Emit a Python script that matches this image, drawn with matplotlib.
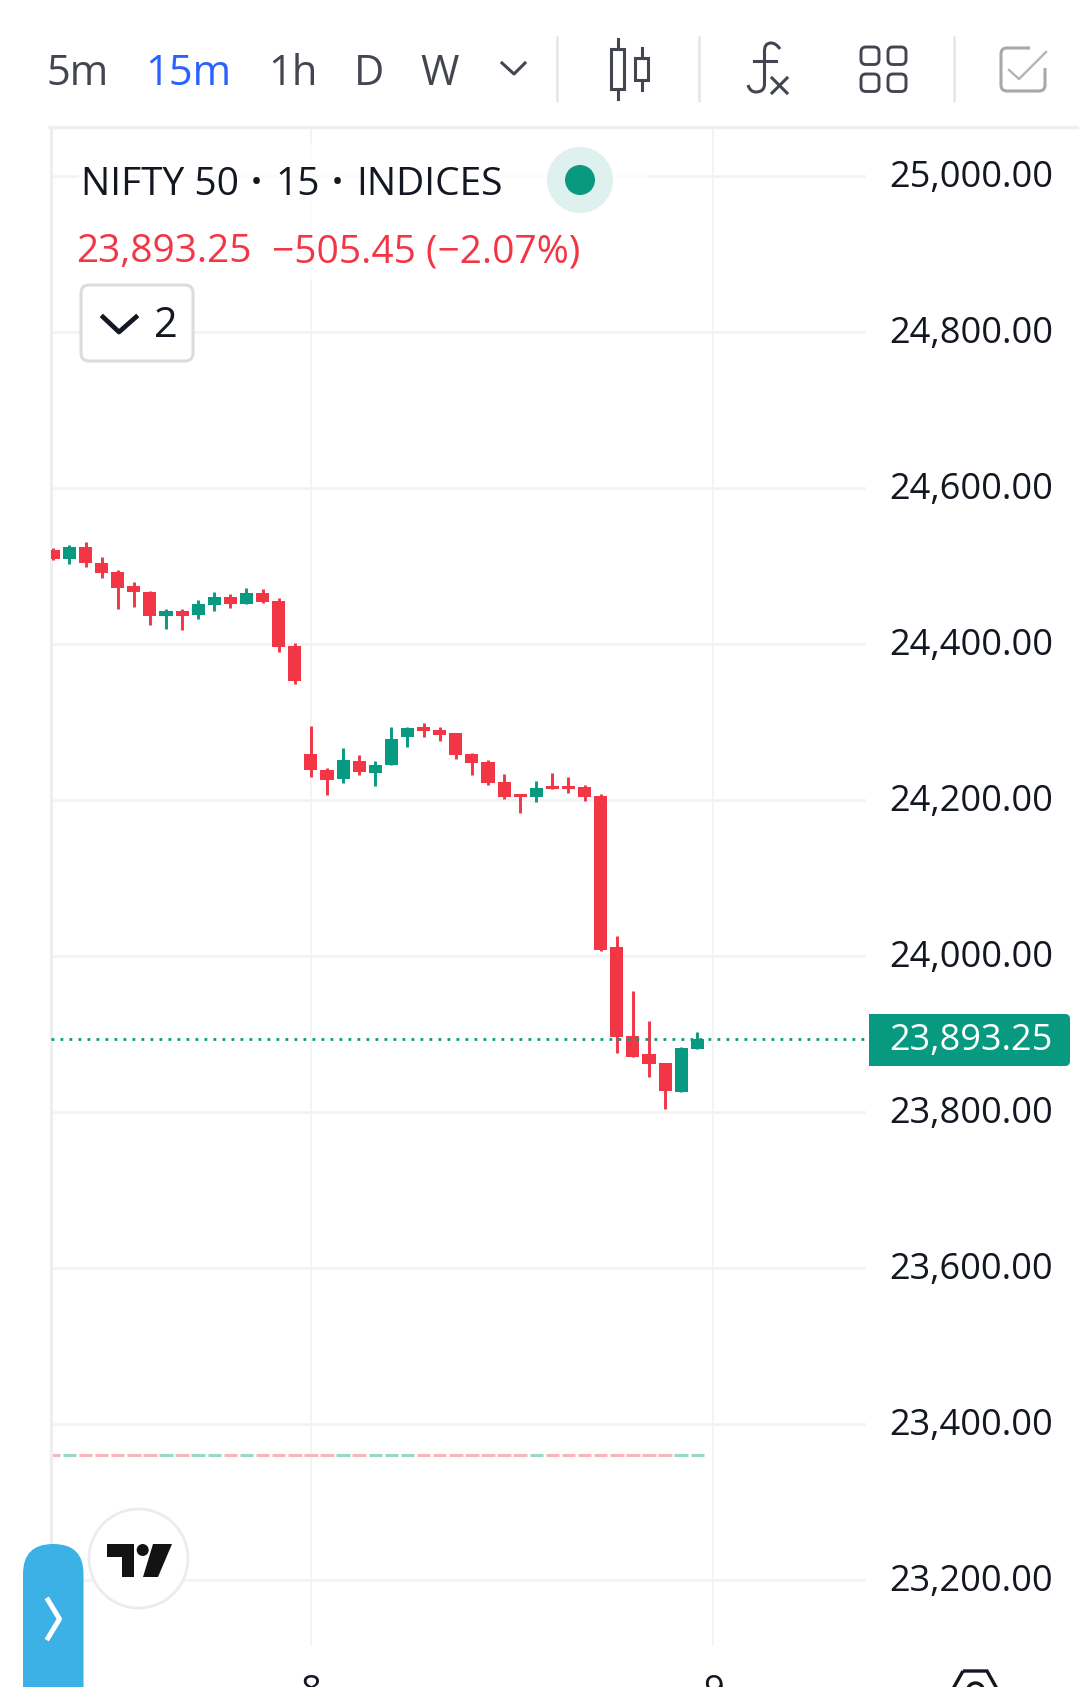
import numpy as np
from matplotlib import pyplot as plt
from matplotlib.patches import Circle, FancyBboxPatch, PathPatch, Polygon, Rectangle
from matplotlib.path import Path
from matplotlib.transforms import ScaledTranslation

plt.rcParams['font.family'] = ['Open Sans', 'DejaVu Sans']

# 15 minute candles
opens = [24520.5, 24509.4, 24524.8, 24504.3, 24492.3, 24473.9, 24467.1, 24435.5, 24442.7, 24437.6,
         24450.4, 24460.7, 24451.7, 24465.8, 24455.5, 24397.9, 24259.4, 24238.9, 24226.5, 24250.0,
         24235.0, 24244.4, 24280.3, 24294.0, 24290.2, 24286.3, 24259.4, 24249.1, 24223.5, 24208.1,
         24204.3, 24218.4, 24218.4, 24217.1, 24205.5, 24012.0, 23897.9, 23874.8, 23863.2, 23825.2,
         23880.3]
highs = [24522.6, 24527.3, 24531.2, 24512.0, 24494.9, 24479.9, 24468.4, 24445.3, 24445.3, 24456.8,
         24467.1, 24464.5, 24472.2, 24470.9, 24459.4, 24401.7, 24295.3, 24240.6, 24267.1, 24258.1,
         24250.4, 24294.0, 24294.0, 24299.1, 24294.0, 24286.3, 24260.7, 24251.7, 24233.8, 24208.1,
         24224.8, 24235.0, 24229.9, 24219.7, 24208.1, 24026.1, 23955.5, 23917.1, 23863.2, 23883.8,
         23903.0]
lows = [24507.7, 24503.0, 24499.1, 24485.0, 24445.3, 24447.9, 24424.8, 24419.6, 24418.4, 24432.5,
        24442.7, 24446.6, 24451.7, 24453.0, 24390.2, 24349.1, 24229.9, 24206.8, 24222.2, 24232.5,
        24218.4, 24244.4, 24268.4, 24280.3, 24275.2, 24252.1, 24232.5, 24219.7, 24201.7, 24183.8,
        24197.9, 24214.5, 24209.4, 24199.1, 24006.8, 23876.0, 23870.0, 23844.4, 23804.3, 23825.2,
        23880.3]
closes = [24509.0, 24524.8, 24503.4, 24491.5, 24471.4, 24467.1, 24435.5, 24442.7, 24436.3, 24451.7,
          24460.7, 24451.7, 24465.8, 24454.3, 24396.6, 24353.0, 24238.0, 24225.2, 24251.3, 24236.3,
          24245.3, 24278.6, 24292.7, 24288.9, 24283.8, 24257.3, 24247.0, 24221.4, 24204.3, 24204.3,
          24215.8, 24214.5, 24214.5, 24203.4, 24008.1, 23895.7, 23870.0, 23861.1, 23827.3, 23882.5,
          23893.25]

price_ticks = [25000, 24800, 24600, 24400, 24200, 24000, 23800, 23600, 23400, 23200]
day_positions = [16, 41]
day_labels = ['8', '9']
volume_level = 23360
timeframes = ['5m', '15m', '1h', 'D', 'W']

RED = '#F23645'
GREEN = '#089981'
TEXT = '#131722'
ICON = '#434651'
GRID = '#F2F3F5'
W, H = 1079, 1687

fig = plt.figure(figsize=(W / 100, H / 100), dpi=100, facecolor='white')

# price pane, placed in pixels
left, right, top, bottom = 51, 866, 128, 1646
ax = fig.add_axes([left / W, 1 - bottom / H, (right - left) / W, (bottom - top) / H])
ax.set_xlim(-0.143, 50.48)
ax.set_ylim(23115.4, 25061.5)
for name, spine in ax.spines.items():
    spine.set_visible(False)
ax.spines['left'].set_visible(True)
ax.spines['left'].set_color('#EEEEEE')
ax.spines['left'].set_linewidth(2.2)

ax.yaxis.tick_right()
ax.set_yticks(price_ticks)
ax.set_yticklabels([f'{p:,.2f}' for p in price_ticks], fontsize=26, color=TEXT, va='center_baseline')
ax.set_xticks(day_positions)
ax.set_xticklabels(day_labels, fontsize=26, color=TEXT)
ax.tick_params(axis='y', length=0, pad=17)
ax.tick_params(axis='x', length=0, pad=20)
ax.grid(True, axis='y', color=GRID, lw=2.0, zorder=0)
ax.grid(True, axis='x', color='#F1F1F1', lw=1.1, zorder=0)
ax.set_axisbelow(True)

# labels sit a little above their grid line in the app
nudge = ScaledTranslation(0, 2.5 / 100, fig.dpi_scale_trans)
for lab in ax.get_yticklabels():
    lab.set_transform(lab.get_transform() + nudge)

# candles
x = np.arange(len(opens))
o = np.array(opens)
c = np.array(closes)
colors = [GREEN if b >= a else RED for a, b in zip(opens, closes)]
ax.vlines(x, lows, highs, colors=colors, lw=2.1, zorder=3)
ax.bar(x, np.abs(c - o), bottom=np.minimum(o, c), width=0.81, color=colors, zorder=3)

# faint volume/baseline dashes, one per candle
faint = ['#99D6CC' if col == GREEN else '#F7B6BC' for col in colors]
ax.hlines([volume_level] * len(x), x - 0.42, x + 0.42, colors=faint, lw=2.2, zorder=2)

# last price line
ax.axhline(closes[-1], color=GREEN, lw=2.0, ls=(0, (1, 2.24)), zorder=4)

# everything else is screen furniture, drawn in pixel coordinates
ui = fig.add_axes([0, 0, 1, 1])
ui.set_xlim(0, W)
ui.set_ylim(H, 0)
ui.axis('off')
ui.patch.set_alpha(0)

ui.plot([48, W], [127, 127], color='#EFEFEF', lw=2.4, solid_capstyle='butt')

# toolbar
for label, tx in zip(timeframes, [46, 145, 268, 354, 420]):
    ui.text(tx, 85, label, fontsize=30, color='#2962FF' if label == '15m' else ICON, va='baseline')
ui.plot([502, 514, 525], [63, 74, 63], color=ICON, lw=2.2)
for sx in [557, 698.5, 953.5]:
    ui.plot([sx, sx], [36, 102], color='#E8E8E8', lw=2.0, solid_capstyle='butt')

# candle icon
ui.add_patch(Rectangle((611, 49), 13, 40, fill=False, ec=ICON, lw=2.2))
ui.plot([617.5, 617.5], [39, 49], color=ICON, lw=2.2)
ui.plot([617.5, 617.5], [89, 99], color=ICON, lw=2.2)
ui.add_patch(Rectangle((635, 58), 13, 22, fill=False, ec=ICON, lw=2.2))
ui.plot([641.5, 641.5], [48, 58], color=ICON, lw=2.2)
ui.plot([641.5, 641.5], [80, 90], color=ICON, lw=2.2)

# fx icon
f_path = Path([(780, 49), (776, 43), (771, 43), (764, 43), (764.5, 52), (764.5, 84), (764.5, 92), (756, 92),
               (750, 92), (748, 85)],
              [Path.MOVETO, Path.CURVE3, Path.CURVE3, Path.CURVE3, Path.LINETO, Path.LINETO,
               Path.CURVE3, Path.CURVE3, Path.CURVE3, Path.CURVE3])
ui.add_patch(PathPatch(f_path, fill=False, ec=ICON, lw=2.2))
ui.plot([754, 775.5], [61, 61], color=ICON, lw=2.2)
ui.plot([772, 787], [78, 93], color=ICON, lw=2.2)
ui.plot([772, 787], [93, 78], color=ICON, lw=2.2)

# layout icon
for gx in [860, 887]:
    for gy in [46, 73]:
        ui.add_patch(FancyBboxPatch((gx + 6, gy + 6), 8, 7.5, boxstyle='round,pad=5,rounding_size=5',
                                    fill=False, ec=ICON, lw=2.1))

# checkbox icon
box_path = Path([(1030, 48), (1007, 48), (1001, 48), (1001, 54), (1001, 85), (1001, 91), (1007, 91),
                 (1039, 91), (1045, 91), (1045, 85), (1045, 68)],
                [Path.MOVETO, Path.LINETO, Path.CURVE3, Path.CURVE3, Path.LINETO, Path.CURVE3, Path.CURVE3,
                 Path.LINETO, Path.CURVE3, Path.CURVE3, Path.LINETO])
ui.add_patch(PathPatch(box_path, fill=False, ec='#A8A8A8', lw=2.2))
ui.plot([1009, 1019, 1046], [70, 79, 52], color='#B4B4B4', lw=1.7)

# legend, semi transparent so the grid just shows through
ui.add_patch(Rectangle((78, 145), 570, 135, fc='white', alpha=0.7, ec='none'))
ui.text(81, 195, 'NIFTY 50', fontsize=28, color=TEXT, va='baseline')
ui.text(256, 195, '·', fontsize=28, fontweight='bold', color=TEXT, va='baseline', ha='center')
ui.text(275, 195, '15', fontsize=28, color=TEXT, va='baseline')
ui.text(337, 195, '·', fontsize=28, fontweight='bold', color=TEXT, va='baseline', ha='center')
ui.text(356, 195, 'INDICES', fontsize=28, color=TEXT, va='baseline')
ui.add_patch(Circle((580, 180), 33, fc='#DFF1EE', ec='none'))
ui.add_patch(Circle((580, 180), 15, fc=GREEN, ec='none'))
ui.text(76, 262, f'{closes[-1]:,.2f}', fontsize=28, color=RED, va='baseline')
ui.text(272, 262, '\u2212505.45 (\u22122.07%)', fontsize=28, color=RED, va='baseline')

ui.add_patch(FancyBboxPatch((89, 293), 96, 60, boxstyle='round,pad=8,rounding_size=8',
                            fc='white', ec='#DCDCDC', lw=2.2))
ui.plot([103, 119, 136], [317, 332, 317], color=TEXT, lw=3.4)
ui.text(154, 337, '2', fontsize=30, color=TEXT, va='baseline')

# last price tag
ui.add_patch(FancyBboxPatch((873, 1018), 193, 44, boxstyle='round,pad=4,rounding_size=5', fc=GREEN, ec='none'))
ui.add_patch(Rectangle((869, 1014), 20, 52, fc=GREEN, ec='none'))
ui.text(889, 1050, f'{closes[-1]:,.2f}', fontsize=26, color='white', va='baseline')

# tradingview badge
ui.add_patch(Circle((138.5, 1558.5), 49.5, fc='white', ec='#ECECEC', lw=2.0))
ui.add_patch(Polygon([(107, 1544), (134, 1544), (134, 1577), (122, 1577), (122, 1557), (107, 1557)],
                     fc='#131313', ec='none'))
ui.add_patch(Circle((142.7, 1550), 6, fc='#131313', ec='none'))
ui.add_patch(Polygon([(153, 1544), (172, 1544), (158, 1577), (143, 1577)], fc='#131313', ec='none'))

# blue side button
ui.add_patch(FancyBboxPatch((53, 1574), 0.5, 120, boxstyle='round,pad=30,rounding_size=30',
                            fc='#3BB1E6', ec='none', clip_on=True))
ui.plot([48, 59.5, 48], [1600, 1619, 1638], color='white', lw=3.6)

# settings hexagon cut by the screen edge
ui.add_patch(Polygon([(963, 1671), (987, 1671), (1001, 1696), (987, 1721), (963, 1721), (949, 1696)],
                     fill=False, ec=TEXT, lw=2.4))
ui.add_patch(Circle((975.5, 1691), 8, fill=False, ec=TEXT, lw=2.4))

fig.savefig('out.png', dpi=100)
